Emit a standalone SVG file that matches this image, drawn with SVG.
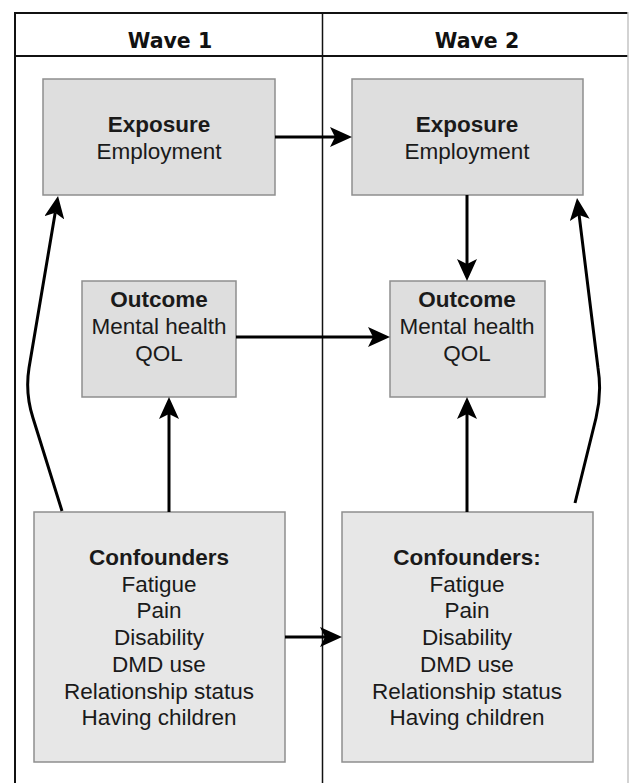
<svg xmlns="http://www.w3.org/2000/svg" width="630" height="783" viewBox="0 0 630 783">
<style>
.hdr{font-family:"DejaVu Sans",sans-serif;font-weight:bold;font-size:20.5px;fill:#111;text-anchor:middle}
.t{font-family:"Liberation Sans",Arial,sans-serif;font-size:22.5px;fill:#1a1a1a;text-anchor:middle}
.b{font-weight:bold}
.box{fill:#dedede;stroke:#8e8e8e;stroke-width:1.5}
.cbox{fill:#e7e7e7;stroke:#8e8e8e;stroke-width:1.5}
.con{fill:none;stroke:#000;stroke-width:3;stroke-linejoin:round}
.frame{stroke:#111;stroke-width:2;fill:none}
</style>
<defs>
<marker id="ah" viewBox="0 0 22 20" refX="5" refY="10" markerWidth="22" markerHeight="20" markerUnits="userSpaceOnUse" orient="auto">
<path d="M0,0 L22,10 L0,20 L5,10 z" fill="#000"/>
</marker>
</defs>
<rect width="630" height="783" fill="#fff"/>
<g id="frame">
<line class="frame" x1="15" y1="13" x2="628" y2="13"/>
<line class="frame" x1="15" y1="56" x2="628" y2="56"/>
<line class="frame" x1="15" y1="12" x2="15" y2="783"/>
<line x1="322.5" y1="12" x2="322.5" y2="783" stroke="#111" stroke-width="1.5"/>
<line x1="628" y1="12" x2="628" y2="783" stroke="#c4c4c4" stroke-width="1.5"/>
<text class="hdr" x="170" y="48">Wave 1</text>
<text class="hdr" x="477" y="48">Wave 2</text>
</g>
<g id="exposure1">
<rect class="box" x="43" y="79" width="232" height="116"/>
<text class="t b" x="159" y="132">Exposure</text>
<text class="t" x="159" y="159">Employment</text>
</g>
<g id="exposure2">
<rect class="box" x="352" y="79" width="231" height="116"/>
<text class="t b" x="467" y="132">Exposure</text>
<text class="t" x="467" y="159">Employment</text>
</g>
<g id="outcome1">
<rect class="box" x="82" y="281" width="154" height="116"/>
<text class="t b" x="159" y="307">Outcome</text>
<text class="t" x="159" y="334">Mental health</text>
<text class="t" x="159" y="361">QOL</text>
</g>
<g id="outcome2">
<rect class="box" x="390" y="281" width="155" height="116"/>
<text class="t b" x="467" y="307">Outcome</text>
<text class="t" x="467" y="334">Mental health</text>
<text class="t" x="467" y="361">QOL</text>
</g>
<g id="confounders1">
<rect class="cbox" x="34" y="512" width="251" height="250"/>
<text class="t b" x="159" y="565">Confounders</text>
<text class="t" x="159" y="591.7">Fatigue</text>
<text class="t" x="159" y="618.4">Pain</text>
<text class="t" x="159" y="645.1">Disability</text>
<text class="t" x="159" y="671.8">DMD use</text>
<text class="t" x="159" y="698.5">Relationship status</text>
<text class="t" x="159" y="725.2">Having children</text>
</g>
<g id="confounders2">
<rect class="cbox" x="342" y="512" width="251" height="250"/>
<text class="t b" x="467" y="565">Confounders:</text>
<text class="t" x="467" y="591.7">Fatigue</text>
<text class="t" x="467" y="618.4">Pain</text>
<text class="t" x="467" y="645.1">Disability</text>
<text class="t" x="467" y="671.8">DMD use</text>
<text class="t" x="467" y="698.5">Relationship status</text>
<text class="t" x="467" y="725.2">Having children</text>
</g>
<g id="connectors">
<line class="con" x1="275" y1="137" x2="335" y2="137" marker-end="url(#ah)"/>
<line class="con" x1="236" y1="337" x2="373" y2="337" marker-end="url(#ah)"/>
<line class="con" x1="285" y1="637" x2="325" y2="637" marker-end="url(#ah)"/>
<line class="con" x1="467" y1="195" x2="467" y2="264" marker-end="url(#ah)"/>
<line class="con" x1="169" y1="512" x2="169" y2="414" marker-end="url(#ah)"/>
<line class="con" x1="467" y1="512" x2="467" y2="414" marker-end="url(#ah)"/>
<path class="con" d="M62,511 L33,418 Q25,393 29,368 L55.2,212.8" marker-end="url(#ah)"/>
<path class="con" d="M575,503 L596,418 Q602,393 598,368 L579.1,214.9" marker-end="url(#ah)"/>
</g>
</svg>
